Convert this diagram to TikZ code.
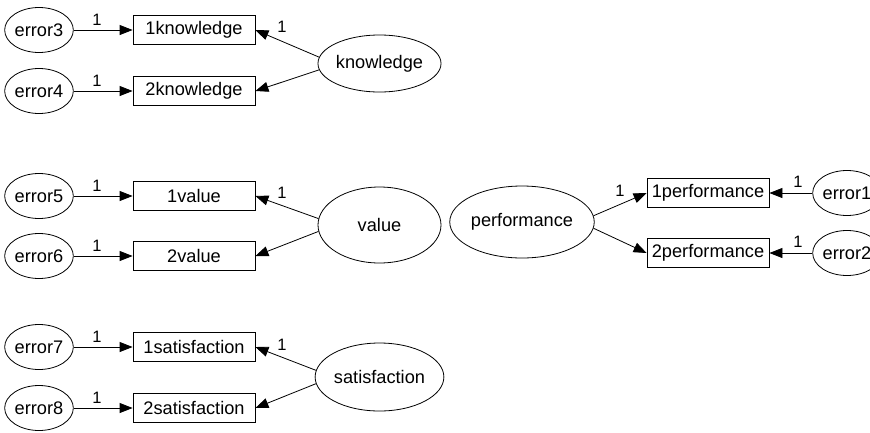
\documentclass[tikz,border=0pt]{standalone}
\usepackage{fontspec}
\setmainfont{Liberation Sans}
\usetikzlibrary{shapes.geometric,arrows.meta}
\tikzset{
  errnode/.style={draw,ellipse,line width=0.8pt,minimum width=62pt,minimum height=45pt,inner sep=0pt,font=\fontsize{18.2}{20}\selectfont},
  latnode/.style={draw,ellipse,line width=0.8pt,minimum width=123pt,inner sep=0pt,font=\fontsize{18.2}{20}\selectfont},
  obsnode/.style={draw,rectangle,line width=0.8pt,minimum width=122pt,minimum height=29pt,inner sep=0pt,font=\fontsize{18.2}{20}\selectfont},
  path/.style={line width=0.8pt,-{Triangle[length=13pt,width=10pt]}},
  wlabel/.style={font=\fontsize{16.5}{18}\selectfont,inner sep=0pt}
}
\begin{document}
\begin{tikzpicture}[x=1pt,y=-1pt]
\useasboundingbox (0,0) rectangle (870,432);
% knowledge
\node[errnode] (e3) at (39,30) {error3};
\node[errnode] (e4) at (39,91) {error4};
\node[obsnode] (k1) at (194,30) {1knowledge};
\node[obsnode] (k2) at (194,91) {2knowledge};
\node[latnode,minimum height=57pt] (kn) at (379.5,63.5) {knowledge};
% value
\node[errnode] (e5) at (39,196) {error5};
\node[errnode] (e6) at (39,256) {error6};
\node[obsnode] (v1) at (194,196) {1value};
\node[obsnode] (v2) at (194,256) {2value};
\node[latnode,minimum height=76pt] (va) at (379.5,225) {value};
% satisfaction
\node[errnode] (e7) at (39,347) {error7};
\node[errnode] (e8) at (39,408) {error8};
\node[obsnode] (s1) at (194,347) {1satisfaction};
\node[obsnode] (s2) at (194,408) {2satisfaction};
\node[latnode,minimum height=68pt] (sa) at (379.5,377) {satisfaction};
% performance
\node[latnode,minimum width=122pt,minimum height=72pt] (pe) at (522,222) {performance};
\node[obsnode] (p1) at (708,193) {1performance};
\node[obsnode] (p2) at (708,253) {2performance};
\node[errnode] (e1) at (847,193) {error1};
\node[errnode] (e2) at (847,253) {error2};
% error paths
\draw[path] (e3) -- (k1);
\draw[path] (e4) -- (k2);
\draw[path] (e5) -- (v1);
\draw[path] (e6) -- (v2);
\draw[path] (e7) -- (s1);
\draw[path] (e8) -- (s2);
\draw[path] (e1) -- (p1);
\draw[path] (e2) -- (p2);
% loadings
\draw[path] (kn.174) -- (k1.east);
\draw[path] (kn.186) -- (k2.east);
\draw[path] (va.174) -- (v1.east);
\draw[path] (va.186) -- (v2.east);
\draw[path] (sa.174) -- (s1.east);
\draw[path] (sa.186) -- (s2.east);
\draw[path] (pe.5) -- (p1.west);
\draw[path] (pe.-5) -- (p2.west);
% labels
\node[wlabel] (l3) at (97,20) {1};
\node[wlabel] (l4) at (97,81) {1};
\node[wlabel] (l5) at (97,186) {1};
\node[wlabel] (l6) at (97,246) {1};
\node[wlabel] (l7) at (97,337) {1};
\node[wlabel] (l8) at (97,398) {1};
\node[wlabel] (lk) at (282,27) {1};
\node[wlabel] (lv) at (282,193) {1};
\node[wlabel] (ls) at (282,345) {1};
\node[wlabel] (lp) at (620,191) {1};
\node[wlabel] (l1) at (798,182) {1};
\node[wlabel] (l2) at (798,242) {1};
\end{tikzpicture}
\end{document}
